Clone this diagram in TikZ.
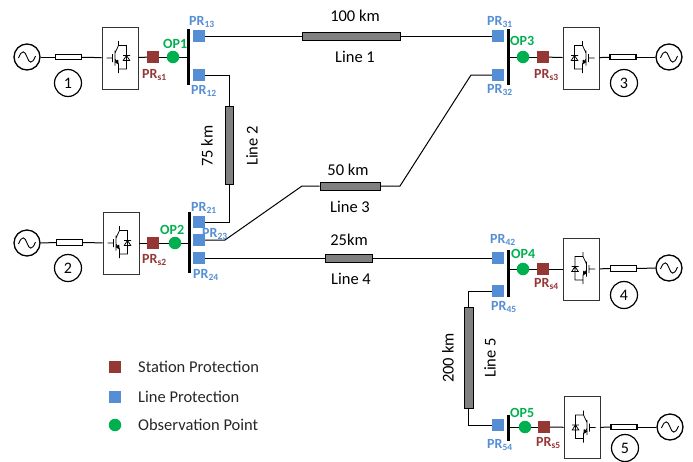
\documentclass[tikz,border=0pt]{standalone}
\usepackage{fontspec}
\setmainfont{Carlito}
\definecolor{prblue}{RGB}{85,142,213}
\definecolor{prred}{RGB}{149,55,53}
\definecolor{opgreen}{RGB}{0,176,80}
\definecolor{linegray}{RGB}{128,128,128}
\newcommand{\labsub}[2]{#1{\fontsize{9.5}{9.5}\selectfont\raisebox{-2.6pt}{#2}}}
\tikzset{
  wire/.style={draw=black,line width=1pt},
  prsq/.style={rectangle,fill=prblue,minimum size=12pt,inner sep=0pt},
  stsq/.style={rectangle,fill=prred,minimum size=12pt,inner sep=0pt},
  opdot/.style={circle,fill=opgreen,minimum size=12.5pt,inner sep=0pt},
  bus/.style={rectangle,fill=black,minimum width=3pt,inner sep=0pt},
  conv/.style={rectangle,draw=black!80,line width=0.9pt,fill=white,minimum width=36pt,minimum height=62pt,inner sep=0pt},
  fuse/.style={rectangle,draw=black,line width=1.2pt,fill=white,minimum width=26pt,minimum height=5.5pt,inner sep=0pt},
  src/.style={circle,draw=black,line width=1.3pt,fill=white,minimum size=26pt,inner sep=0pt},
  num/.style={circle,draw=black,line width=1.2pt,fill=white,minimum size=27pt,inner sep=0pt,font=\fontsize{16}{18}\selectfont},
  tline/.style={rectangle,draw=black,line width=0.8pt,fill=linegray,inner sep=0pt},
  prlab/.style={anchor=base west,inner sep=0pt,text=prblue,font=\fontsize{14}{16}\selectfont\bfseries},
  stlab/.style={anchor=base west,inner sep=0pt,text=prred,font=\fontsize{14}{16}\selectfont\bfseries},
  oplab/.style={anchor=base west,inner sep=0pt,text=opgreen,font=\fontsize{14}{16}\selectfont\bfseries},
  txt/.style={inner sep=0pt,font=\fontsize{16.5}{18}\selectfont},
  legend/.style={anchor=west,inner sep=0pt,font=\fontsize{16.5}{18}\selectfont,text=black!85},
  igbt/.pic={
    \draw[line width=0.75pt,black]
      (-13.5,0)--(-8,0) (-7.5,-4)--(-7.5,4) (-5,-7.5)--(-5,7.5)
      (-5,-5)--(-1.5,-12.5)--(-1.5,-17) (-1.5,-12.5)--(6.5,-12.5)--(6.5,11)--(-1.5,11)
      (-5,1)--(-1.5,6)--(-1.5,15)
      (3,2.5)--(10,2.5) (3,-2.5)--(10,-2.5) (6.5,-2.5)--(3.2,2.5)--(9.8,2.5)--cycle;
    \fill[black] (-1.5,6.5)--(-5.5,4)--(-1.8,1.5)--cycle;
  },
  sine/.pic={
    \draw[line width=0.9pt,black] (-8.5,1) .. controls (-5,-8) and (-2,-6) .. (0,0) .. controls (2,6) and (5,8) .. (8.5,-1);
  }
}
\begin{document}
\begin{tikzpicture}[x=1pt,y=-1pt]
\useasboundingbox (0,0) rectangle (693,461);
% -------- terminal 1
\node[src] (s1) at (27,57) {}; \pic at (s1) {sine};
\node[fuse] (f1) at (68.5,57) {};
\node[conv] (c1) at (120,58) {}; \pic at (c1) {igbt};
\node[stsq] (st1) at (153,57) {};
\node[opdot] (op1) at (173,57) {};
\node[bus,minimum height=56pt] (b1) at (188.5,57) {};
\node[prsq] (p13) at (199,36) {};
\node[prsq] (p12) at (199,75) {};
\node[num] (n1) at (68,83) {1};
% -------- terminal 2
\node[src] (s2) at (27,243) {}; \pic at (s2) {sine};
\node[fuse] (f2) at (69.5,242.5) {};
\node[conv] (c2) at (121,243) {}; \pic at (c2) {igbt};
\node[stsq] (st2) at (153,243) {};
\node[opdot] (op2) at (175,243) {};
\node[bus,minimum height=61pt] (b2) at (189,242.5) {};
\node[prsq] (p21) at (199,222) {};
\node[prsq] (p23) at (199,240) {};
\node[prsq] (p24) at (199,258) {};
\node[num] (n2) at (68,268) {2};
% -------- terminal 3
\node[src] (s3) at (669,57) {}; \pic at (s3) {sine};
\node[fuse] (f3) at (623,57) {};
\node[conv] (c3) at (581,58) {}; \pic[xscale=-1] at (c3) {igbt};
\node[stsq] (st3) at (543,57) {};
\node[opdot] (op3) at (523,57) {};
\node[bus,minimum height=56pt] (b3) at (508,57) {};
\node[prsq] (p31) at (498,36) {};
\node[prsq] (p32) at (498,75) {};
\node[num] (n3) at (624,83) {3};
% -------- terminal 4
\node[src] (s4) at (669,268) {}; \pic at (s4) {sine};
\node[fuse] (f4) at (623.5,268.5) {};
\node[conv] (c4) at (581.5,269) {}; \pic[xscale=-1] at (c4) {igbt};
\node[stsq] (st4) at (543,269) {};
\node[opdot] (op4) at (523,269) {};
\node[bus,minimum height=47pt] (b4) at (508,273.5) {};
\node[prsq] (p42) at (498,258) {};
\node[prsq] (p45) at (498,291) {};
\node[num] (n4) at (624,295) {4};
% -------- terminal 5
\node[src] (s5) at (670,427) {}; \pic at (s5) {sine};
\node[fuse] (f5) at (624,427) {};
\node[conv] (c5) at (582,427.5) {}; \pic[xscale=-1] at (c5) {igbt};
\node[stsq] (st5) at (544,427) {};
\node[opdot] (op5) at (525,427) {};
\node[bus,minimum height=26pt] (b5) at (508,427.5) {};
\node[prsq] (p54) at (498,425) {};
\node[num] (n5) at (625,448) {5};
% -------- line bodies
\node[tline,minimum width=98pt,minimum height=8pt] (l1) at (351,36) {};
\node[tline,minimum width=8pt,minimum height=78pt] (l2) at (229,145) {};
\node[tline,minimum width=60pt,minimum height=8pt] (l3) at (350,186) {};
\node[tline,minimum width=47pt,minimum height=8pt] (l4) at (348.5,258) {};
\node[tline,minimum width=9pt,minimum height=101pt] (l5) at (468.5,357.5) {};
\coordinate (k12) at (l2.north |- p12);
\coordinate (k21) at (l2.south |- p21);
\coordinate (k3a) at (225,240);
\coordinate (k3b) at (302,186);
\coordinate (k3c) at (400,186);
\coordinate (k3d) at (471,75);
\coordinate (k45) at (l5.north |- p45);
\coordinate (k54) at (l5.south |- p54);
% -------- connectors
\foreach \i in {1,...,5}{
  \draw[wire] (s\i) -- (f\i);
  \draw[wire] (f\i) -- (c\i);
  \draw[wire] (c\i) -- (st\i);
  \draw[wire] (st\i) -- (op\i);
  \draw[wire] (op\i) -- (op\i -| b\i.center);
}
\draw[wire] (p13) -- (l1);
\draw[wire] (l1) -- (p31);
\draw[wire] (p12) -- (k12) -- (l2);
\draw[wire] (l2) -- (k21) -- (p21);
\draw[wire] (p23) -- (k3a) -- (k3b) -- (l3);
\draw[wire] (l3) -- (k3c) -- (k3d) -- (p32);
\draw[wire] (p24) -- (l4);
\draw[wire] (l4) -- (p42);
\draw[wire] (p45) -- (k45) -- (l5);
\draw[wire] (l5) -- (k54) -- (p54);
% -------- device labels
\node[prlab] (t13) at (189,25) {\labsub{PR}{13}};
\node[prlab] (t12) at (191,94) {\labsub{PR}{12}};
\node[stlab] (ts1) at (142,78) {\labsub{PR}{s1}};
\node[oplab] (to1) at (163,48) {OP1};
\node[prlab] (t21) at (191,211) {\labsub{PR}{21}};
\node[prlab] (t23) at (202,237) {\labsub{PR}{23}};
\node[prlab] (t24) at (193,278) {\labsub{PR}{24}};
\node[stlab] (ts2) at (142,263) {\labsub{PR}{s2}};
\node[oplab] (to2) at (160,234) {OP2};
\node[prlab] (t31) at (487,25) {\labsub{PR}{31}};
\node[prlab] (t32) at (487,93) {\labsub{PR}{32}};
\node[oplab] (to3) at (510,45) {OP3};
\node[stlab] (ts3) at (534,78) {\labsub{PR}{s3}};
\node[prlab] (t42) at (490,243) {\labsub{PR}{42}};
\node[prlab] (t45) at (491,310) {\labsub{PR}{45}};
\node[oplab] (to4) at (511,258) {OP4};
\node[stlab] (ts4) at (534,287) {\labsub{PR}{s4}};
\node[prlab] (t54) at (487,448) {\labsub{PR}{54}};
\node[oplab] (to5) at (510,417) {OP5};
\node[stlab] (ts5) at (536,446) {\labsub{PR}{s5}};
% -------- line labels
\node[txt] (d1) at (355,16) {100 km};
\node[txt] (a1) at (355,57) {Line 1};
\node[txt,rotate=90] (d2) at (207,146) {75 km};
\node[txt,rotate=90] (a2) at (252,146) {Line 2};
\node[txt] (d3) at (348,170) {50 km};
\node[txt] (a3) at (350,207) {Line 3};
\node[txt] (d4) at (349,240) {25km};
\node[txt] (a4) at (351,279) {Line 4};
\node[txt,rotate=90] (d5) at (448,358) {200 km};
\node[txt,rotate=90] (a5) at (490,358) {Line 5};
% -------- legend
\node[stsq] (ls) at (115,367) {};
\node[prsq] (lp) at (115,397) {};
\node[opdot] (lo) at (115,425) {};
\node[legend] (lts) at (138,367) {Station Protection};
\node[legend] (ltp) at (138,397) {Line Protection};
\node[legend] (lto) at (138,425) {Observation Point};
\end{tikzpicture}
\end{document}
